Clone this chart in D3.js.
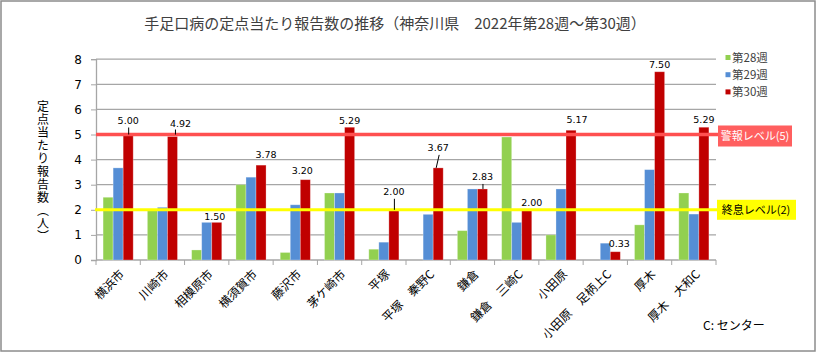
<!DOCTYPE html>
<html><head><meta charset="utf-8">
<script src="https://cdn.jsdelivr.net/npm/d3@7"></script>
<style>
html,body{margin:0;padding:0;background:#fff;}
svg{display:block;}
text{font-family:"Noto Sans CJK JP","Noto Sans",sans-serif;}
.num{font-family:"DejaVu Sans",sans-serif;}
</style></head>
<body>
<svg id="chart" width="817" height="353"></svg>
<script>
const categories = ["横浜市","川崎市","相模原市","横須賀市","藤沢市","茅ケ崎市","平塚","平塚　秦野C","鎌倉","鎌倉　三崎C","小田原","小田原　足柄上C","厚木","厚木　大和C"];
const seriesNames = ["第28週","第29週","第30週"];
const week28 = [2.50, 1.97, 0.40, 3.00, 0.30, 2.67, 0.43, 0, 1.17, 4.90, 1.00, 0, 1.40, 2.67];
const week29 = [3.67, 2.10, 1.50, 3.30, 2.20, 2.67, 0.71, 1.82, 2.83, 1.50, 2.83, 0.67, 3.60, 1.83];
const week30 = [5.00, 4.92, 1.50, 3.78, 3.20, 5.29, 2.00, 3.67, 2.83, 2.00, 5.17, 0.33, 7.50, 5.29];
const yTicks = [0,1,2,3,4,5,6,7,8];
const alertLevel = 5, endLevel = 2;
const alertLabel = "警報レベル(5)", endLabel = "終息レベル(2)";
const title = "手足口病の定点当たり報告数の推移（神奈川県　2022年第28週～第30週）";
const yTitle = "定点当たり報告数（人）";
const note = "C: センター";
// label offsets (style): [dx, dy above bar top, leader type]
const labelStyle = [[0,-14,1],[8,-13,2],[-2,-6,0],[5,-10,0],[-3,-9,0],[0,-7,0],[0,-18,1],[0,-20,3],[0,-12,1],[5,-7,0],[6,-11,0],[4,-8,0],[0,-7,0],[0,-8,0]];

const colors = ["#92d050","#558ed5","#c00000"];
const svg = d3.select("#chart");
const L = 96, R = 716, T = 59.2, B = 260;

svg.append("rect").attr("x",1).attr("y",1).attr("width",814).attr("height",350)
  .attr("fill","#fff").attr("stroke","#8c8c8c").attr("stroke-width",1.5);

svg.append("text").attr("x",395).attr("y",29).attr("text-anchor","middle")
  .attr("font-size",15).attr("fill","#404040").text(title);

const y = d3.scaleLinear().domain([0,8]).range([B,T]);
const x0 = d3.scaleBand().domain(categories).range([L,R]).paddingInner(0.32).paddingOuter(0.16);
const x1 = d3.scaleBand().domain([0,1,2]).range([0,x0.bandwidth()]);

// grid
svg.append("g").selectAll("line").data(yTicks.filter(d=>d>0)).join("line")
  .attr("x1",L).attr("x2",R).attr("y1",d=>y(d)).attr("y2",d=>y(d))
  .attr("stroke","#a6a6a6").attr("stroke-width",1.3);

// y axis
const ya = svg.append("g").attr("transform",`translate(${L},0)`)
  .call(d3.axisLeft(y).tickValues(yTicks).tickSize(5).tickPadding(9));
ya.select(".domain").attr("stroke","#a6a6a6").attr("stroke-width",1.3);
ya.selectAll(".tick line").attr("stroke","#a6a6a6");
ya.selectAll(".tick text").attr("class","num").attr("font-size",12).attr("fill","#000");

// x axis
const step = x0.step();
const xa = svg.append("g");
xa.append("line").attr("x1",L).attr("x2",R).attr("y1",B).attr("y2",B).attr("stroke","#a6a6a6").attr("stroke-width",1.3);
xa.selectAll("line.t").data(d3.range(categories.length+1)).join("line").attr("class","t")
  .attr("x1",i=>L+i*step).attr("x2",i=>L+i*step).attr("y1",B).attr("y2",B+5).attr("stroke","#a6a6a6");
xa.selectAll("text").data(categories).join("text")
  .attr("transform",d=>`translate(${x0(d)+x0.bandwidth()/2+4},${B+12}) rotate(-45)`)
  .attr("text-anchor","end").attr("dy","0.35em").attr("font-size",12).attr("fill","#000").text(d=>d);

// bars
const series = [week28,week29,week30];
const g = svg.append("g");
categories.forEach((c,i)=>{
  series.forEach((s,k)=>{
    const v = s[i];
    if(v<=0) return;
    g.append("rect").attr("x",x0(c)+x1(k)).attr("width",x1.bandwidth())
      .attr("y",y(v)).attr("height",y(0)-y(v)).attr("fill",colors[k])
      .attr("stroke","rgba(255,255,255,0.35)").attr("stroke-width",0.8);
  });
});

// reference lines
svg.append("line").attr("x1",L).attr("x2",718).attr("y1",y(alertLevel)).attr("y2",y(alertLevel))
  .attr("stroke","#ff5050").attr("stroke-width",3.5);
svg.append("line").attr("x1",L-1).attr("x2",717).attr("y1",y(endLevel)).attr("y2",y(endLevel))
  .attr("stroke","#ffff00").attr("stroke-width",3);
svg.append("rect").attr("x",718).attr("y",y(alertLevel)-9).attr("width",74).attr("height",21).attr("fill","#ff5f5f");
svg.append("text").attr("x",755).attr("y",y(alertLevel)+1.5).attr("dy","0.35em").attr("text-anchor","middle")
  .attr("font-size",11).attr("fill","#fff").text(alertLabel);
svg.append("rect").attr("x",717).attr("y",y(endLevel)-10).attr("width",79).attr("height",20).attr("fill","#ffff00");
svg.append("text").attr("x",756).attr("y",y(endLevel)).attr("dy","0.35em").attr("text-anchor","middle")
  .attr("font-size",11).attr("fill","#000").text(endLabel);

// value labels for week30
categories.forEach((c,i)=>{
  const v = week30[i];
  const cx = x0(c)+x1(2)+x1.bandwidth()/2;
  const top = y(v);
  const [dx,dy,lead] = labelStyle[i];
  svg.append("text").attr("class","num").attr("x",cx+dx).attr("y",top+dy).attr("dy","0.35em")
    .attr("text-anchor","middle").attr("font-size",9.5).attr("fill","#000").text(v.toFixed(2));
  if(lead===1){
    svg.append("line").attr("x1",cx+0.5).attr("x2",cx+0.5).attr("y1",top+dy+7).attr("y2",top)
      .attr("stroke","#000").attr("stroke-width",1);
  } else if(lead===2){
    svg.append("line").attr("x1",cx+dx-5).attr("x2",cx+3).attr("y1",top+dy+6).attr("y2",top-2)
      .attr("stroke","#000").attr("stroke-width",1);
  } else if(lead===3){
    svg.append("line").attr("x1",cx+1).attr("x2",cx-2).attr("y1",top+dy+7).attr("y2",top)
      .attr("stroke","#000").attr("stroke-width",1);
  }
});

// legend
const lg = svg.append("g");
seriesNames.forEach((n,k)=>{
  const yy = 57.5 + k*17.2;
  lg.append("rect").attr("x",725.5).attr("y",yy-2.5).attr("width",5).attr("height",5).attr("fill",colors[k]);
  lg.append("text").attr("x",732).attr("y",yy).attr("dy","0.35em").attr("font-size",11.5).attr("fill","#404040").text(n);
});

// y title vertical (single text, vertical writing mode)
svg.append("text").attr("x",43).attr("y",100)
  .style("writing-mode","vertical-rl").style("text-orientation","upright")
  .style("letter-spacing","1px")
  .attr("font-size",12).attr("fill","#000").text(yTitle);

svg.append("text").attr("x",703).attr("y",330).attr("font-size",12).attr("fill","#000").text(note);
</script>
</body></html>
